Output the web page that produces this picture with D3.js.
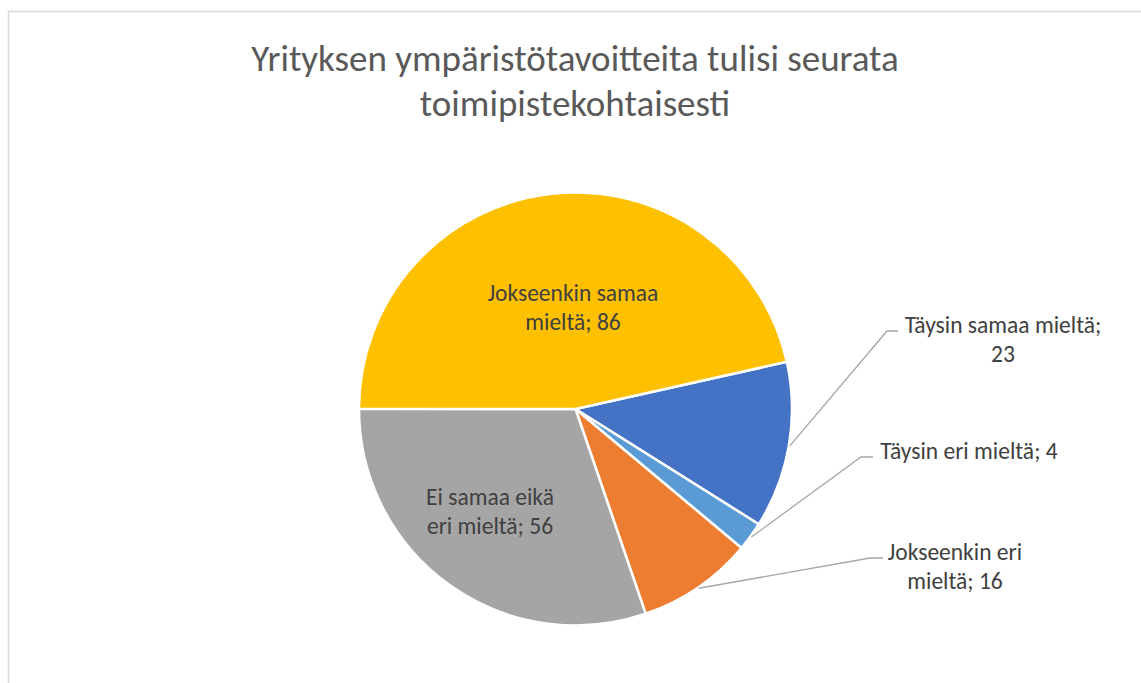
<!DOCTYPE html>
<html lang="fi">
  <head>
    <meta charset="UTF-8" />
    <title>pie</title>
    <script src="https://cdn.jsdelivr.net/npm/d3@7"></script>
    <style>
      body { margin: 0; background: #fff; }
      text { font-family: Calibri, Carlito, Lato, sans-serif; }
    </style>
  </head>
  <body>
    <svg width="1141" height="683"></svg>
  </body>

  <script>
    // data (order as drawn, clockwise from the first slice)
    var categories = ['Täysin samaa mieltä', 'Täysin eri mieltä', 'Jokseenkin eri mieltä', 'Ei samaa eikä eri mieltä', 'Jokseenkin samaa mieltä'];
    var values = [23, 4, 16, 56, 86];
    var colors = ['#4472C4', '#5B9BD5', '#ED7D31', '#A5A5A5', '#FFC000'];
    var titleLines = ['Yrityksen ympäristötavoitteita tulisi seurata', 'toimipistekohtaisesti'];

    // label layout: text lines, anchor, and (for outside labels) elbow of the leader line
    var labelLayout = [
      { lines: ['Täysin samaa mieltä;', '23'], x: 1003, y: 325, elbow: [887, 331], end: 898 },
      { lines: ['Täysin eri mieltä; 4'], x: 969, y: 451, elbow: [861, 457], end: 873 },
      { lines: ['Jokseenkin eri', 'mieltä; 16'], x: 955, y: 552, elbow: [870, 558], end: 883 },
      { lines: ['Ei samaa eikä', 'eri mieltä; 56'], x: 490, y: 497 },
      { lines: ['Jokseenkin samaa', 'mieltä; 86'], x: 573, y: 293 }
    ];

    var svg = d3.select('svg');
    var cx = 575.5, cy = 409, radius = 216.5;
    var lineH = 29;

    // chart frame
    svg.append('rect')
      .attr('x', 8.5).attr('y', 11.5)
      .attr('width', 1160).attr('height', 700)
      .attr('fill', '#fff')
      .attr('stroke', '#d9d9d9')
      .attr('stroke-width', 1.5);

    // title
    svg.append('text')
      .attr('text-anchor', 'middle')
      .attr('font-size', 37)
      .attr('fill', '#595959')
      .selectAll('tspan')
      .data(titleLines)
      .enter()
      .append('tspan')
      .attr('x', 575)
      .attr('y', function (d, i) { return 58 + i * 45; })
      .attr('dy', '0.35em')
      .text(function (d) { return d; });

    var startAngle = 77.4 * Math.PI / 180;
    var pie = d3.pie().sort(null)
      .startAngle(startAngle)
      .endAngle(startAngle + 2 * Math.PI);
    var arcs = pie(values);

    var arc = d3.arc().innerRadius(0).outerRadius(radius);
    var g = svg.append('g').attr('transform', 'translate(' + cx + ',' + cy + ')');

    g.selectAll('path.slice')
      .data(arcs)
      .enter()
      .append('path')
      .attr('class', 'slice')
      .attr('d', arc)
      .attr('fill', function (d, i) { return colors[i]; })
      .attr('stroke', '#fff')
      .attr('stroke-width', 2.5)
      .attr('stroke-linejoin', 'round');

    // leader lines for outside labels
    arcs.forEach(function (d, i) {
      var L = labelLayout[i];
      if (!L.elbow) return;
      var mid = (d.startAngle + d.endAngle) / 2;
      var r = radius + 1;
      var p0 = [cx + r * Math.sin(mid), cy - r * Math.cos(mid)];
      svg.append('polyline')
        .attr('points', [p0, L.elbow, [L.end, L.elbow[1]]].map(function (p) { return p.join(','); }).join(' '))
        .attr('fill', 'none')
        .attr('stroke', '#a6a6a6')
        .attr('stroke-width', 1.3);
    });

    // labels
    labelLayout.forEach(function (L) {
      svg.append('text')
        .attr('text-anchor', 'middle')
        .attr('font-size', 23.5)
        .attr('fill', '#404040')
        .selectAll('tspan')
        .data(L.lines)
        .enter()
        .append('tspan')
        .attr('x', L.x)
        .attr('y', function (d, i) { return L.y + i * lineH; })
        .attr('dy', '0.35em')
        .text(function (d) { return d; });
    });
  </script>
</html>
